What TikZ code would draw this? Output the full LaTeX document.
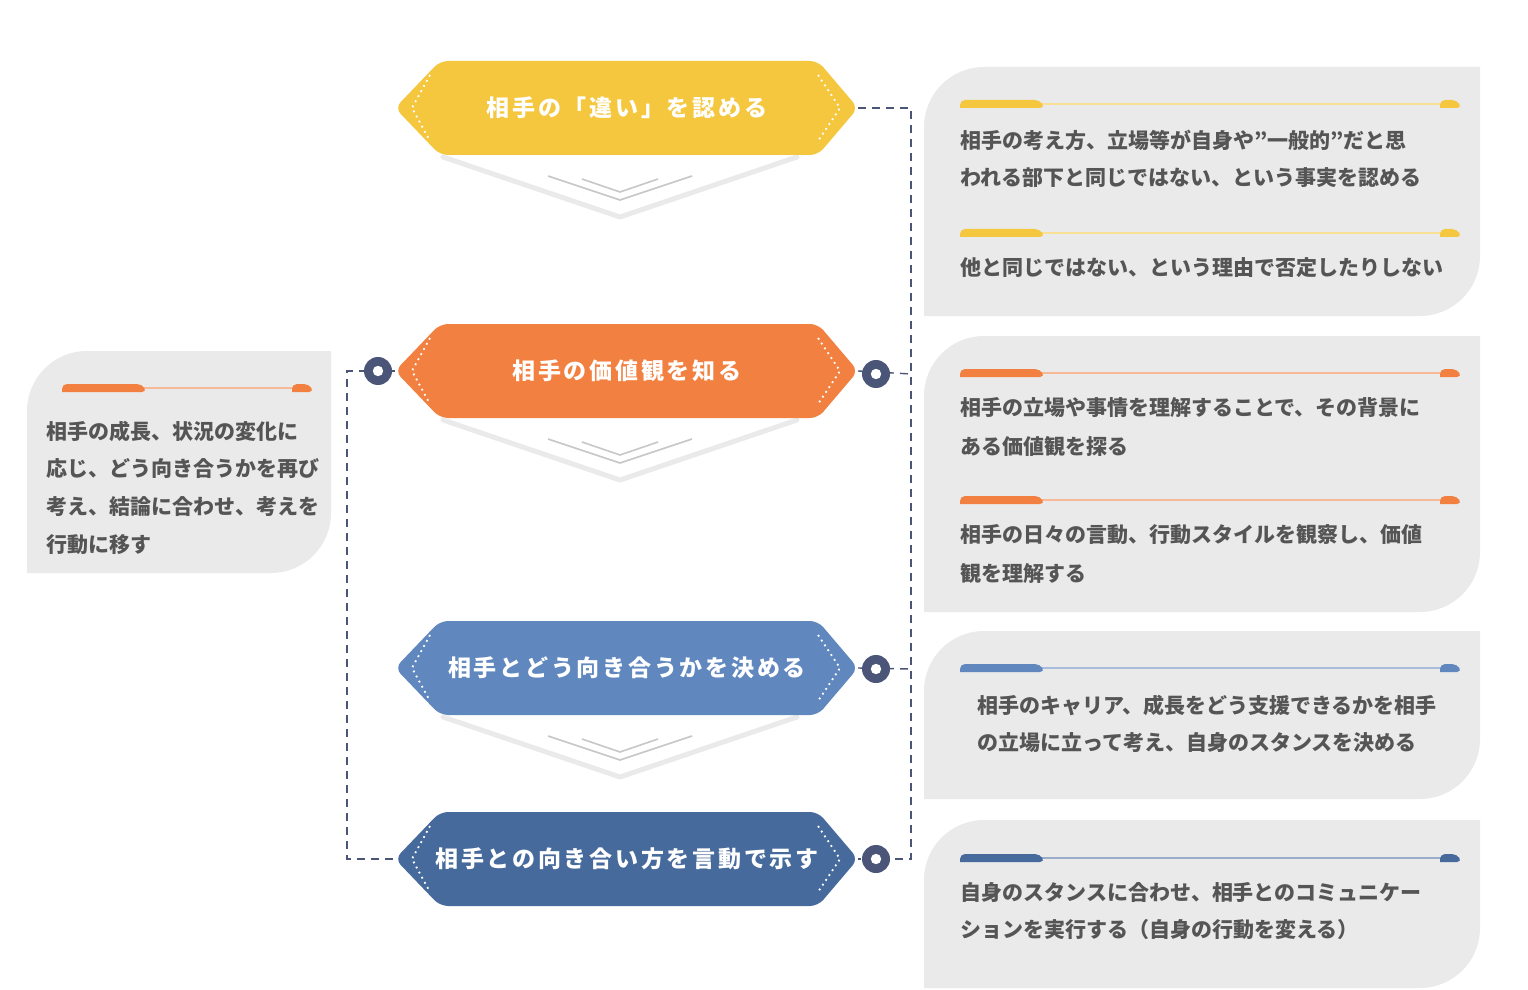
\documentclass[tikz,border=0pt]{standalone}
\usepackage{fontspec}
\setmainfont{Noto Sans CJK JP}
\newfontfamily\banfont[LetterSpace=12]{Noto Sans CJK JP}
\definecolor{cy}{HTML}{F5C73F}
\definecolor{co}{HTML}{F28040}
\definecolor{cb}{HTML}{6088BF}
\definecolor{cd}{HTML}{476A9C}
\definecolor{cg}{HTML}{EAEAEA}
\definecolor{ct}{HTML}{555555}
\definecolor{cn}{HTML}{4A5578}
\tikzset{
 ban/.style={font=\banfont\bfseries\fontsize{11.5}{14}\selectfont, text=white},
 ctext/.style={font=\bfseries\fontsize{10.5}{13}\selectfont, text=ct, anchor=west, inner sep=0},
 conn/.style={cn, dashed, dash pattern=on 4pt off 3pt, line width=0.7pt},
 dotc/.style={fill=cn, circle, minimum size=14pt, inner sep=0},
}
\newcommand\hexban[4]{%
 \fill[#2, rounded corners=4pt] (395,#1) -- (440,#1-47) -- (818,#1-47) -- (858,#1) -- (818,#1+47) -- (440,#1+47) -- cycle;
 \draw[white, dotted, line width=0.9pt] (430,#1-33) -- (412,#1) -- (430,#1+33);
 \draw[white, dotted, line width=0.9pt] (818,#1-33) -- (840,#1) -- (818,#1+33);
 \node[ban] (#4) at (627,#1) {#3};
 \coordinate (#4r) at (858,#1);
 \coordinate (#4l) at (395,#1);
}
\newcommand\chev[1]{%
 \draw[cg, line width=2.5pt, line join=round, line cap=round] (443,#1+2) -- (620,#1+62) -- (797,#1+2);
 \draw[black!22, line width=0.8pt] (548,#1+21) -- (620,#1+45) -- (692,#1+21);
 \draw[black!22, line width=0.8pt] (582,#1+24) -- (620,#1+37) -- (658,#1+24);
}
\newcommand\card[4]{%
 \fill[cg] (#1,#4) [rounded corners=30pt] -- (#1,#2) [sharp corners] -- (#3,#2) [rounded corners=30pt] -- (#3,#4) [sharp corners] -- cycle;
}
\newcommand\cbar[4]{%
 \draw[#4!55, line width=1pt] (#1+80,#3) -- (#2-10,#3);
 \fill[#4, rounded corners=2.5pt] (#1,#3+4) -- (#1,#3-4) -- (#1+80,#3-4) -- (#1+85,#3+4) [sharp corners] -- cycle;
 \fill[#4, rounded corners=2.5pt] (#2-22,#3+4) -- (#2-22,#3-4) -- (#2-5,#3-4) -- (#2,#3+4) [sharp corners] -- cycle;
}
\begin{document}
\begin{tikzpicture}[x=0.5pt,y=-0.5pt]
\useasboundingbox (0,0) rectangle (1528,990);
% cards
\card{924}{67}{1480}{316}
\card{924}{336}{1480}{612}
\card{924}{631}{1480}{799}
\card{924}{820}{1480}{988}
\card{27}{351}{331}{573}
% chevrons
\chev{155}\chev{418}\chev{715}
% banners
\hexban{108}{cy}{相手の「違い」を認める}{b1}
\hexban{371}{co}{相手の価値観を知る}{b2}
\hexban{668}{cb}{相手とどう向き合うかを決める}{b3}
\hexban{859}{cd}{相手との向き合い方を言動で示す}{b4}
% connectors
\coordinate (rt) at (911,108);
\coordinate (rb) at (911,859);
\coordinate (r2) at (911,374);
\coordinate (r3) at (911,669);
\draw[conn] (b1r) -- (rt) -- (rb) -- (b4r);
\draw[conn] (b2r) -- (r2);
\draw[conn] (b3r) -- (r3);
\coordinate (lt) at (347,371);
\coordinate (lb) at (347,859);
\draw[conn] (b2l) -- (lt) -- (lb) -- (b4l);
\foreach \n/\x/\y in {d1/378/371,d2/876/374,d3/876/669,d4/876/859}{
 \node[dotc] (\n) at (\x,\y) {};
 \fill[white] (\n) circle (2.6pt);
}
% card content
\cbar{960}{1462}{104}{cy}
\node[ctext] (t1a) at (960,140) {相手の考え方、立場等が自身や”一般的”だと思};
\node[ctext] (t1b) at (960,178) {われる部下と同じではない、という事実を認める};
\cbar{960}{1462}{233}{cy}
\node[ctext] (t1c) at (960,268) {他と同じではない、という理由で否定したりしない};
\cbar{960}{1462}{373}{co}
\node[ctext] (t2a) at (960,408) {相手の立場や事情を理解することで、その背景に};
\node[ctext] (t2b) at (960,446) {ある価値観を探る};
\cbar{960}{1462}{500}{co}
\node[ctext] (t2c) at (960,535) {相手の日々の言動、行動スタイルを観察し、価値};
\node[ctext] (t2d) at (960,573) {観を理解する};
\cbar{960}{1462}{668}{cb}
\node[ctext] (t3a) at (977,706) {相手のキャリア、成長をどう支援できるかを相手};
\node[ctext] (t3b) at (977,743) {の立場に立って考え、自身のスタンスを決める};
\cbar{960}{1462}{858}{cd}
\node[ctext] (t4a) at (960,892) {自身のスタンスに合わせ、相手とのコミュニケー};
\node[ctext] (t4b) at (960,930) {ションを実行する（自身の行動を変える）};
\cbar{62}{314}{388}{co}
\node[ctext] (l1) at (46,431) {相手の成長、状況の変化に};
\node[ctext] (l2) at (46,469) {応じ、どう向き合うかを再び};
\node[ctext] (l3) at (46,507) {考え、結論に合わせ、考えを};
\node[ctext] (l4) at (46,545) {行動に移す};
\end{tikzpicture}
\end{document}
